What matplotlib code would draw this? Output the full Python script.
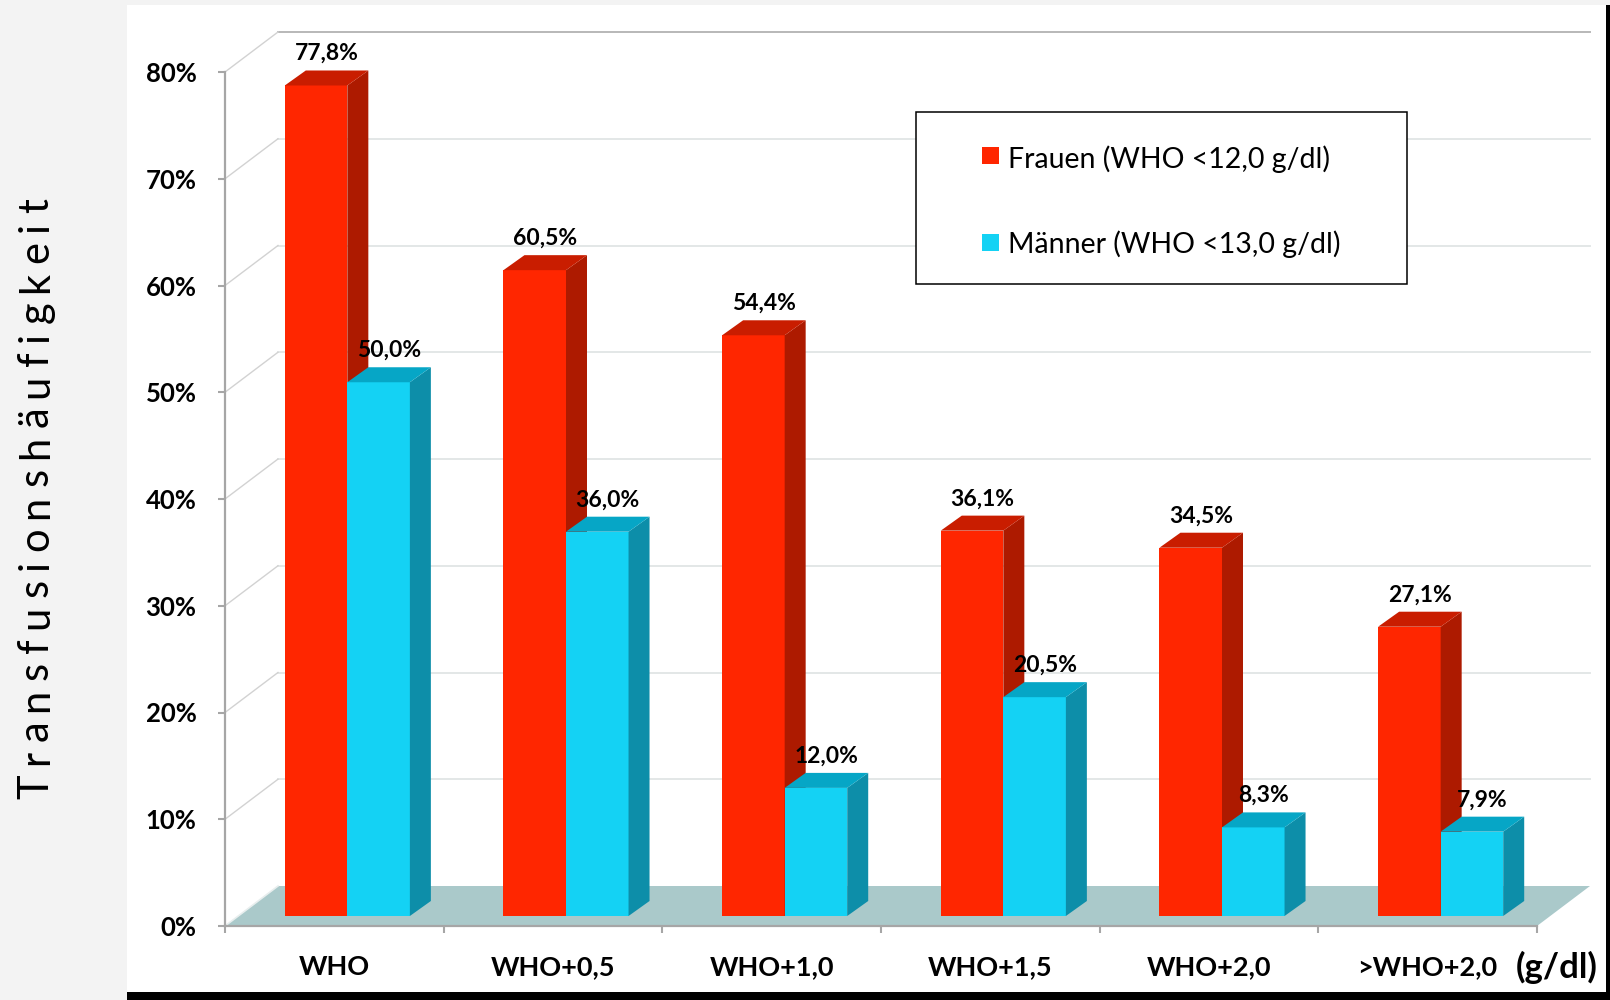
import matplotlib
matplotlib.use("Agg")
import matplotlib.pyplot as plt
import matplotlib.transforms as mtransforms
from matplotlib.patches import Polygon, Rectangle
from matplotlib.font_manager import FontProperties
from matplotlib.ticker import FixedLocator, FuncFormatter, NullFormatter

# ---- data -------------------------------------------------------------
categories = ["WHO", "WHO+0,5", "WHO+1,0", "WHO+1,5", "WHO+2,0", ">WHO+2,0"]
frauen = [77.8, 60.5, 54.4, 36.1, 34.5, 27.1]
maenner = [50.0, 36.0, 12.0, 20.5, 8.3, 7.9]
series_labels = ["Frauen (WHO <12,0 g/dl)", "Männer (WHO <13,0 g/dl)"]
y_ticks = [0, 10, 20, 30, 40, 50, 60, 70, 80]
y_label = "Transfusionshäufigkeit"
unit_label = "(g/dl)"

# ---- style ------------------------------------------------------------
FONT = "Lato"
red = {"front": "#ff2600", "top": "#c91d00", "side": "#ad1a00"}
cyan = {"front": "#14d2f4", "top": "#06a6c6", "side": "#0d8ea9"}
floor_color = "#aac9ca"
axis_color = "#a6a6a6"

W, H = 1610, 1000
fig = plt.figure(figsize=(W / 100, H / 100), dpi=100, facecolor="#f3f3f3")


def fx(px):
    return px / W


def fy(py):
    return 1 - py / H


def fig_rect(x0, y0, x1, y1, **kw):
    r = Rectangle((fx(x0), fy(y1)), fx(x1) - fx(x0), fy(y0) - fy(y1),
                  transform=fig.transFigure, **kw)
    fig.patches.append(r)
    return r


# chart panel and dark frame
fig_rect(127, 5, 1606, 992, facecolor="white", edgecolor="none", zorder=-2)
fig_rect(127, 992, 1610, 1000, facecolor="black", edgecolor="none", zorder=-1)
fig_rect(1606, 5, 1610, 1000, facecolor="black", edgecolor="none", zorder=-1)

# plot area: x in category units, y in percent
ax = fig.add_axes([fx(225), fy(926), fx(1537) - fx(225), fy(72) - fy(926)])
n = len(categories)
ax.set_xlim(0, n)
ax.set_ylim(0, 80)
ax.patch.set_visible(False)

ux = (1537 - 225) / n          # px per category
uy = (926 - 72) / 80.0         # px per percent
DX, DY = 53 / ux, 40 / uy      # depth of floor / walls
BDX, BDY = 13 / ux, 10 / uy    # bar placement inside the depth
SDX, SDY = 21 / ux, 15 / uy    # bar depth
HW = 0.286                     # bar width

# floor
ax.add_patch(Polygon([(0, 0), (n, 0), (n + DX, DY), (DX, DY)], closed=True,
                     facecolor=floor_color, edgecolor="none", clip_on=False, zorder=1))
ax.plot([0, DX], [0, DY], color="#e8eeee", lw=1.2, clip_on=False, zorder=1.1)

# wall gridlines
for v in y_ticks[1:]:
    top = v == y_ticks[-1]
    ax.plot([DX, n + DX], [v + DY, v + DY], color="#b8b8b8" if top else "#e3e7e7",
            lw=1.4, clip_on=False, zorder=1)
    ax.plot([0, DX], [v, v + DY], color="#d2d2d2", lw=1.0, clip_on=False, zorder=1)


def bar3d(x0, x1, value, colors, z):
    y0, y1 = BDY, BDY + value
    xa, xb = x0 + BDX, x1 + BDX
    ax.add_patch(Polygon([(xa, y0), (xb, y0), (xb, y1), (xa, y1)], closed=True,
                         facecolor=colors["front"], edgecolor="none", clip_on=False, zorder=z))
    ax.add_patch(Polygon([(xb, y0), (xb + SDX, y0 + SDY), (xb + SDX, y1 + SDY), (xb, y1)],
                         closed=True, facecolor=colors["side"], edgecolor="none",
                         clip_on=False, zorder=z))
    ax.add_patch(Polygon([(xa, y1), (xb, y1), (xb + SDX, y1 + SDY), (xa + SDX, y1 + SDY)],
                         closed=True, facecolor=colors["top"], edgecolor="none",
                         clip_on=False, zorder=z))


label_trans = mtransforms.offset_copy(ax.transData, fig=fig, x=0, y=7.5, units="points")


def value_label(xc, value):
    ax.text(xc + BDX + SDX / 2, BDY + value + SDY, f"{value:.1f}%".replace(".", ","),
            transform=label_trans, ha="center", va="baseline", fontsize=16.5,
            fontweight="bold", family=FONT, color="black", zorder=20, clip_on=False)


z = 3
for i, (f, m) in enumerate(zip(frauen, maenner)):
    c = i + 0.5
    bar3d(c - HW, c, f, red, z)
    bar3d(c, c + HW, m, cyan, z + 1)
    value_label(c - HW / 2, f)
    value_label(c + HW / 2, m)
    z += 2

# axes
for s in ("top", "right"):
    ax.spines[s].set_visible(False)
for s in ("left", "bottom"):
    ax.spines[s].set_color(axis_color)
    ax.spines[s].set_linewidth(1.6)
    ax.spines[s].set_zorder(2)

ax.yaxis.set_major_locator(FixedLocator(y_ticks))
ax.yaxis.set_major_formatter(FuncFormatter(lambda v, p: f"{int(v)}%"))
ax.tick_params(axis="y", direction="out", length=5, width=1.5, color=axis_color,
               pad=15.5, labelsize=18.5)
for t in ax.get_yticklabels():
    t.set_fontweight("bold")
    t.set_family(FONT)

ax.xaxis.set_major_locator(FixedLocator(list(range(n + 1))))
ax.xaxis.set_major_formatter(NullFormatter())
ax.xaxis.set_minor_locator(FixedLocator([i + 0.5 for i in range(n)]))
ax.set_xticks([i + 0.5 for i in range(n)], categories, minor=True)
ax.tick_params(axis="x", which="major", direction="out", length=5, width=1.5, color=axis_color)
ax.tick_params(axis="x", which="minor", length=0, pad=21, labelsize=19.5)
for t in ax.get_xticklabels(minor=True):
    t.set_fontweight("bold")
    t.set_family(FONT)

fig.text(fx(1598), fy(978), unit_label, ha="right", va="baseline", fontsize=25,
         fontweight="bold", family=FONT, color="black")

# legend box
fig_rect(916, 112, 1407, 284, facecolor="white", edgecolor="black", linewidth=1.1, zorder=30)
for (sq_top, base), lab, col in zip([(147, 168), (234, 253)], series_labels,
                                    [red["front"], cyan["front"]]):
    fig_rect(982, sq_top, 999, sq_top + 17, facecolor=col, edgecolor="none", zorder=31)
    fig.text(fx(1008), fy(base), lab, ha="left", va="baseline", fontsize=20.5,
             family=FONT, color="black", zorder=32)

# spaced-out vertical axis title
prop = FontProperties(family=FONT, size=30)
renderer = fig.canvas.get_renderer()
widths = [renderer.get_text_width_height_descent(ch, prop, ismath=False)[0] for ch in y_label]
y_bottom, y_top = 799, 198
gap = ((y_bottom - y_top) - sum(widths)) / (len(y_label) - 1)
pos = y_bottom
for ch, w in zip(y_label, widths):
    fig.text(fx(48), fy(pos), ch, rotation=90, rotation_mode="anchor", ha="left",
             va="baseline", fontproperties=prop, color="black")
    pos -= w + gap

fig.savefig("out.png", dpi=100, facecolor=fig.get_facecolor())
